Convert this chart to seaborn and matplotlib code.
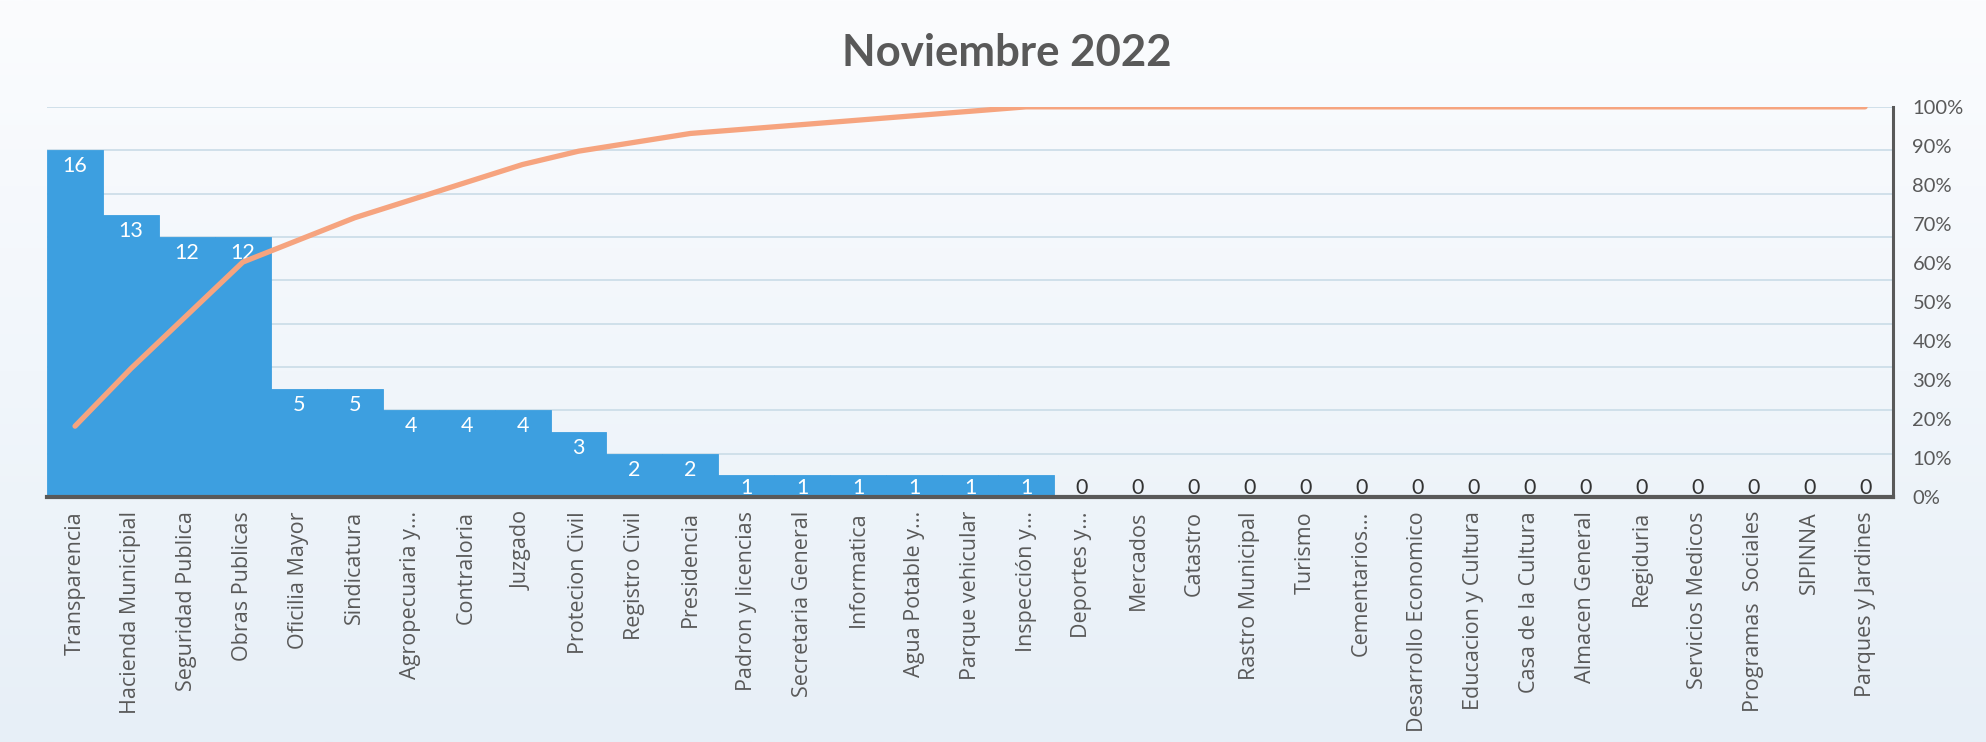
import numpy as np
import pandas as pd
import matplotlib
matplotlib.use("Agg")
import matplotlib.pyplot as plt
import seaborn as sns
from matplotlib.colors import LinearSegmentedColormap

# ---- data ----
title = "Noviembre 2022"
categories = [
    "Transparencia", "Hacienda Municipial", "Seguridad Publica", "Obras Publicas",
    "Oficilia Mayor", "Sindicatura", "Agropecuaria y...", "Contraloria", "Juzgado",
    "Protecion Civil", "Registro Civil", "Presidencia", "Padron y licencias",
    "Secretaria General", "Informatica", "Agua Potable y...", "Parque vehicular",
    "Inspección y...", "Deportes y...", "Mercados", "Catastro", "Rastro Municipal",
    "Turismo", "Cementarios...", "Desarrollo Economico", "Educacion y Cultura",
    "Casa de la Cultura", "Almacen General", "Regiduria", "Servicios Medicos",
    "Programas  Sociales", "SIPINNA", "Parques y Jardines",
]
counts = [16, 13, 12, 12, 5, 5, 4, 4, 4, 3, 2, 2, 1, 1, 1, 1, 1, 1,
          0, 0, 0, 0, 0, 0, 0, 0, 0, 0, 0, 0, 0, 0, 0]
pct_ticks = [0, 0.1, 0.2, 0.3, 0.4, 0.5, 0.6, 0.7, 0.8, 0.9, 1.0]
pct_labels = ["0%", "10%", "20%", "30%", "40%", "50%", "60%", "70%", "80%", "90%", "100%"]
count_grid = [2, 4, 6, 8, 10, 12, 14, 16, 18]

df = pd.DataFrame({"categoria": categories, "n": counts})
df["acum"] = np.cumsum(df["n"]) / df["n"].sum()
df["pos"] = np.arange(len(df))

# ---- style ----
sns.set_theme(style="white")
plt.rcParams["font.family"] = ["Open Sans", "DejaVu Sans"]
BAR = "#3d9fe0"
LINE = "#f6a47f"
GREY = "#595959"
GRID = "#d0e0ea"

fig = plt.figure(figsize=(19.86, 7.42), dpi=100)

# background gradient
bg = fig.add_axes([0, 0, 1, 1], zorder=-10)
grad = np.linspace(0, 1, 256).reshape(-1, 1)
cmap = LinearSegmentedColormap.from_list("bg", ["#fbfcfe", "#f1f6fb", "#e7eff7"])
bg.imshow(grad, aspect="auto", cmap=cmap, extent=[0, 1, 0, 1], origin="upper")
bg.set_axis_off()

ax = fig.add_axes([0.0237, 0.330, 0.9295, 0.526])
ax.set_facecolor("none")
sns.barplot(data=df, x="categoria", y="n", color=BAR, saturation=1, width=1.0,
            edgecolor=BAR, linewidth=0.6, ax=ax, zorder=2)
ax.set_xlim(-0.5, len(df) - 0.5)
ax.set_ylim(0, 18)
ax.set_yticks(count_grid)
ax.yaxis.grid(True, color=GRID, linewidth=1.4, zorder=0)
ax.set_axisbelow(True)
ax.set_xlabel("")
ax.set_ylabel("")
ax.tick_params(axis="x", length=0, pad=10, labelsize=15.5, labelcolor=GREY)
for lab in ax.get_xticklabels():
    lab.set_rotation(90)
    lab.set_va("top")
    lab.set_ha("center")
for s in ["top", "left", "right"]:
    ax.spines[s].set_visible(False)
ax.spines["bottom"].set_color(GREY)
ax.spines["bottom"].set_linewidth(3)
ax.spines["bottom"].set_zorder(5)

# bar value labels
inset = 0.74
floor = 0.41
for p, v in zip(df["pos"], df["n"]):
    y = max(v - inset, floor)
    ax.text(p, y, f"{v}", ha="center", va="center", fontsize=15.5,
            color="white" if v > 0 else "#333333", family=["Lato", "DejaVu Sans"],
            zorder=4)

# cumulative percentage line
ax2 = ax.twinx()
sns.lineplot(data=df, x="pos", y="acum", color=LINE, linewidth=3.8, ax=ax2,
             zorder=3, solid_capstyle="round")
ax2.set_ylim(0, 1)
ax2.set_xlim(-0.5, len(df) - 0.5)
ax2.set_yticks(pct_ticks)
ax2.set_yticklabels(pct_labels, family=["Lato", "DejaVu Sans"])
ax2.set_ylabel("")
ax2.set_xlabel("")
for s in ["top", "left", "bottom"]:
    ax2.spines[s].set_visible(False)
ax2.spines["right"].set_color(GREY)
ax2.spines["right"].set_linewidth(2.2)
ax2.grid(False)

ax.tick_params(axis="y", which="both", left=False, right=False,
               labelleft=False, labelright=False, length=0)
ax2.tick_params(axis="y", which="both", left=False, right=False, length=0,
                pad=14, labelsize=14.5, labelcolor=GREY)

fig.text(0.507, 0.929, title, ha="center", va="center", fontsize=31.5,
         fontweight="bold", color=GREY, family=["Lato", "DejaVu Sans"])

fig.savefig("out.png", dpi=100)
